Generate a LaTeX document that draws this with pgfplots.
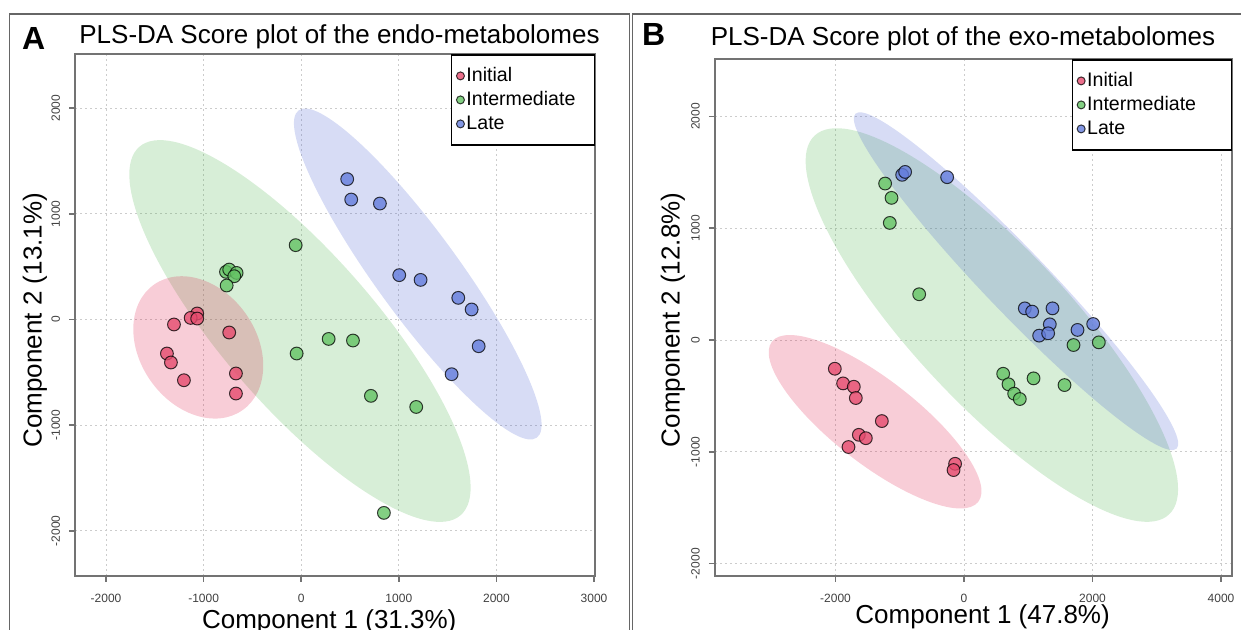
\documentclass[border=0pt]{standalone}
\usepackage{pgfplots}
\pgfplotsset{compat=1.18}
\usepackage{fontspec}
\setmainfont{Liberation Sans}
\definecolor{ellR}{RGB}{220,5,55}
\definecolor{ellG}{RGB}{55,170,55}
\definecolor{ellB}{RGB}{55,80,205}
\definecolor{ptR}{RGB}{230,75,110}
\definecolor{ptG}{RGB}{100,195,100}
\definecolor{ptB}{RGB}{100,125,220}
\pgfplotsset{
  myaxis/.style={
    scale only axis,
    axis line style={black!55, line width=1pt},
    tick align=outside, major tick length=3pt,
    tick style={black!55, line width=0.8pt},
    tick pos=left,
    grid=major,
    major grid style={black!20, dash pattern=on 1pt off 1.5pt, line width=0.5pt},
    /pgf/number format/assume math mode=true,
    /pgf/number format/set thousands separator={},
    ticklabel style={font=\fontsize{6}{7}\selectfont, text=black!75},
    yticklabel style={rotate=90, anchor=south},
    yticklabel shift=1pt,
    xticklabel style={anchor=north},
    xticklabel shift=2.5pt,
    label style={font=\fontsize{13}{15}\selectfont},
    legend style={at={(1,1)}, anchor=north east, draw=black, line width=0.6pt, fill=white,
      font=\fontsize{9.8}{11}\selectfont, inner xsep=2.5pt, inner ysep=4.5pt, row sep=0pt,
      nodes={inner sep=1pt, text height=7.8pt, text depth=2.2pt}},
    legend cell align=left,
    legend image code/.code={\draw[#1, mark size=2pt] plot coordinates {(0.1cm,0cm)};},
  },
  ptstyle/.style={only marks, mark=*, mark size=3.2pt,
    mark options={fill=#1, fill opacity=0.8, draw=black, draw opacity=0.75, line width=0.5pt}},
}
\begin{document}
\begin{tikzpicture}
\useasboundingbox (0,0) rectangle (620.5pt,-314.5pt);
\clip (0,0) rectangle (620.5pt,-314.5pt);
\draw[black!60, line width=0.75pt] (4.75pt,-330pt) -- (4.75pt,-7pt) -- (314.65pt,-7pt) -- (314.65pt,-330pt);
\draw[black!60, line width=0.75pt] (316.35pt,-330pt) -- (316.35pt,-7pt) -- (630pt,-7pt);

% Panel A
\begin{axis}[myaxis,
  at={(37.5pt,-287.8pt)}, anchor=south west,
  width=260pt, height=260.65pt,
  xmin=-2318, xmax=3010, ymin=-2425, ymax=2511,
  xtick={-2000,-1000,0,1000,2000,3000},
  ytick={-2000,-1000,0,1000,2000},
  xlabel={Component 1 (31.3\%)},
  ylabel={Component 2 (13.1\%)},
  xlabel style={at={(axis description cs:0.489,-0.1021)}, anchor=base},
  ylabel style={at={(axis description cs:-0.0642,0.49)}, anchor=base},
]
\fill[ellG, fill opacity=0.2, rotate around={-48.9:(axis cs:-13,-109)}] (axis cs:-13,-109) ellipse [x radius=122.2pt, y radius=38.1pt];
\fill[ellR, fill opacity=0.2, rotate around={-54.8:(axis cs:-1055,-264)}] (axis cs:-1055,-264) ellipse [x radius=38.4pt, y radius=29.1pt];
\fill[ellB, fill opacity=0.2, rotate around={-53.95:(axis cs:1194,431)}] (axis cs:1194,431) ellipse [x radius=101.2pt, y radius=20.85pt];
\addplot[ptstyle=ptR] coordinates {(-1066,57) (-1133,15) (-1066,9) (-1304,-47) (-738,-123) (-1376,-322) (-1335,-407) (-1202,-575) (-669,-511) (-669,-701)};
\addlegendentry{Initial}
\addplot[ptstyle=ptG] coordinates {(-57,704) (-771,451) (-738,473) (-662,441) (-686,410) (-764,322) (-47,-322) (281,-184) (530,-199) (714,-723) (1178,-828) (847,-1831)};
\addlegendentry{Intermediate\rule{6pt}{0pt}}
\addplot[ptstyle=ptB] coordinates {(471,1329) (512,1136) (806,1098) (1004,420) (1223,375) (1609,205) (1746,95) (1818,-253) (1541,-518)};
\addlegendentry{Late}
\end{axis}

% Panel B
\begin{axis}[myaxis,
  at={(357.45pt,-287.8pt)}, anchor=south west,
  width=258.4pt, height=258.15pt,
  xmin=-3877, xmax=4166, ymin=-2107, ymax=2510,
  xtick={-2000,0,2000,4000},
  ytick={-2000,-1000,0,1000,2000},
  xlabel={Component 1 (47.8\%)},
  ylabel={Component 2 (12.8\%)},
  xlabel style={at={(axis description cs:0.518,-0.0934)}, anchor=base},
  ylabel style={at={(axis description cs:-0.0685,0.4953)}, anchor=base},
]
\fill[ellR, fill opacity=0.2, rotate around={-37.8:(axis cs:-1384,-731)}] (axis cs:-1384,-731) ellipse [x radius=65.3pt, y radius=21.1pt];
\fill[ellG, fill opacity=0.2, rotate around={-46.9:(axis cs:433,134)}] (axis cs:433,134) ellipse [x radius=129.7pt, y radius=39pt];
\fill[ellB, fill opacity=0.2, rotate around={-46.2:(axis cs:809,526)}] (axis cs:809,526) ellipse [x radius=116pt, y radius=15.9pt];
\addplot[ptstyle=ptR] coordinates {(-2011,-257) (-1882,-388) (-1715,-418) (-1684,-519) (-1279,-725) (-1637,-848) (-1528,-878) (-1798,-957) (-139,-1107) (-163,-1163)};
\addlegendentry{Initial}
\addplot[ptstyle=ptG] coordinates {(-1228,1399) (-1128,1271) (-1155,1047) (-698,409) (1704,-45) (2098,-21) (609,-302) (692,-396) (780,-480) (868,-528) (1082,-343) (1564,-403)};
\addlegendentry{Intermediate\rule{14pt}{0pt}}
\addplot[ptstyle=ptB] coordinates {(-963,1477) (-917,1503) (-263,1456) (946,283) (1060,254) (1377,283) (1335,140) (1169,39) (1309,60) (1766,90) (2010,143)};
\addlegendentry{Late}
\end{axis}

\node[font=\fontsize{13}{15}\selectfont, anchor=base] at (169.75pt,-21.65pt) {PLS-DA Score plot of the endo-metabolomes};
\node[font=\fontsize{13}{15}\selectfont, anchor=base] at (481.5pt,-22.5pt) {PLS-DA Score plot of the exo-metabolomes};
\node[font=\bfseries\fontsize{16}{18}\selectfont, anchor=base west, inner sep=0pt] at (10.85pt,-24.65pt) {A};
\node[font=\bfseries\fontsize{16}{18}\selectfont, anchor=base west, inner sep=0pt] at (320.85pt,-22.5pt) {B};
\end{tikzpicture}
\end{document}
